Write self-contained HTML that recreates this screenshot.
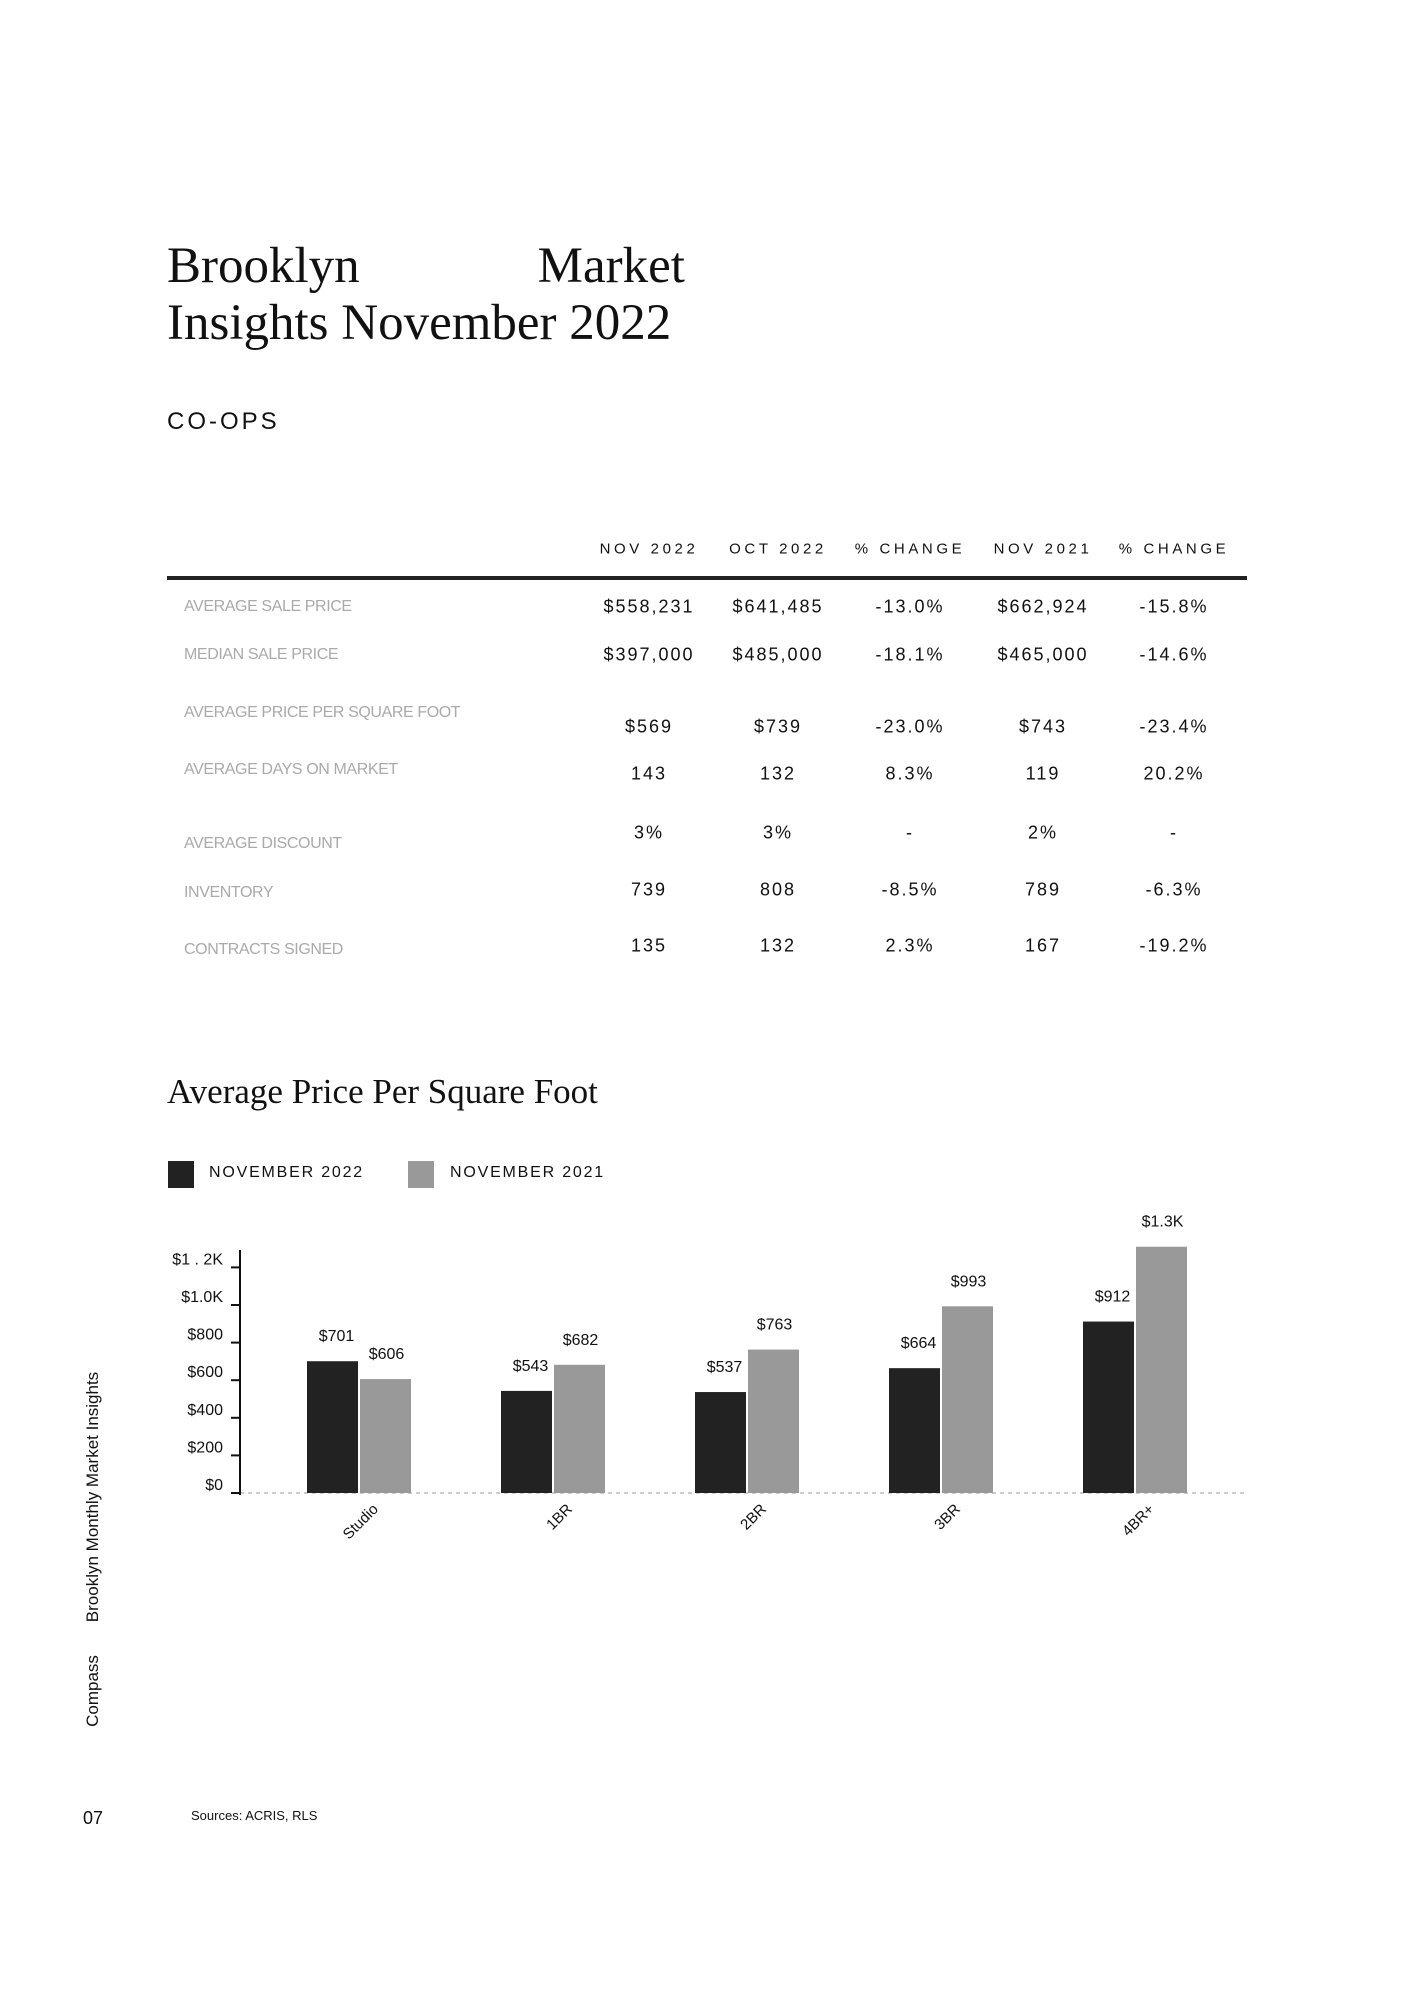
<!DOCTYPE html>
<html><head><meta charset="utf-8"><style>
body{margin:0;width:1414px;height:2000px;background:#fff;position:relative;overflow:hidden;font-family:"Liberation Sans",sans-serif;color:#111}
.a{position:absolute;white-space:nowrap}
.serif{font-family:"Liberation Serif",serif}
.hd{font-size:15px;letter-spacing:3.6px;transform:translate(-50%,-50%)}
.lb{font-size:16px;letter-spacing:-0.4px;color:#aaa;left:184px;transform:translateY(-50%)}
.v{font-size:18px;letter-spacing:2px;transform:translate(-50%,-50%)}
</style></head><body>
<div class="a serif" style="left:167px;top:238px;font-size:51px;line-height:57px">Brooklyn<span style="display:inline-block;width:178px"></span>Market<br>Insights November 2022</div>
<div class="a" style="left:167px;top:408px;font-size:24px;letter-spacing:3px">CO-OPS</div>
<div id="tbl"></div>
<div class="a" style="left:167px;top:576px;width:1080px;height:4px;background:#222"></div>
<div class="a serif" style="left:167px;top:1072px;font-size:35px">Average Price Per Square Foot</div>
<div class="a" style="left:168px;top:1161px;width:26px;height:27px;background:#222"></div>
<div class="a" style="left:209px;top:1164px;font-size:16px;letter-spacing:1.8px">NOVEMBER 2022</div>
<div class="a" style="left:408px;top:1161px;width:26px;height:27px;background:#999"></div>
<div class="a" style="left:450px;top:1164px;font-size:16px;letter-spacing:1.8px">NOVEMBER 2021</div>
<svg id="chart" class="a" style="left:0;top:0" width="1414" height="2000"></svg>
<div class="a" style="left:93px;top:1497px;font-size:17px;transform:translate(-50%,-50%) rotate(-90deg)">Brooklyn Monthly Market Insights</div>
<div class="a" style="left:93px;top:1691px;font-size:17px;transform:translate(-50%,-50%) rotate(-90deg)">Compass</div>
<div class="a" style="left:83px;top:1808px;font-size:18px">07</div>
<div class="a" style="left:191px;top:1808px;font-size:13px">Sources: ACRIS, RLS</div>
<script>
const headers=["NOV 2022","OCT 2022","% CHANGE","NOV 2021","% CHANGE"];
const rowLabels=["AVERAGE SALE PRICE","MEDIAN SALE PRICE","AVERAGE PRICE PER SQUARE FOOT","AVERAGE DAYS ON MARKET","AVERAGE DISCOUNT","INVENTORY","CONTRACTS SIGNED"];
const rowValues=[["$558,231","$641,485","-13.0%","$662,924","-15.8%"],["$397,000","$485,000","-18.1%","$465,000","-14.6%"],["$569","$739","-23.0%","$743","-23.4%"],["143","132","8.3%","119","20.2%"],["3%","3%","-","2%","-"],["739","808","-8.5%","789","-6.3%"],["135","132","2.3%","167","-19.2%"]];
const colX=[649,778,910,1043,1174];
const valY=[607,655,727,774,833,890,946];
const labY=[607,655,713,770,844,893,950];
const tbl=document.getElementById('tbl');
headers.forEach((h,i)=>{const d=document.createElement('div');d.className='a hd';d.style.left=colX[i]+'px';d.style.top='549px';d.textContent=h;


tbl.appendChild(d);});
rowLabels.forEach((l,r)=>{const d=document.createElement('div');d.className='a lb';d.style.top=labY[r]+'px';d.textContent=l;


tbl.appendChild(d);
rowValues[r].forEach((v,c)=>{const e=document.createElement('div');e.className='a v';e.style.left=colX[c]+'px';e.style.top=valY[r]+'px';e.textContent=v;


tbl.appendChild(e);});});

const categories=["Studio","1BR","2BR","3BR","4BR+"];
const nov2022=[701,543,537,664,912];
const nov2021=[606,682,763,993,1310];
const ticks=[0,200,400,600,800,1000,1200];
const tickLabels=["$0","$200","$400","$600","$800","$1.0K","$1 . 2K"];
const NS="http://www.w3.org/2000/svg";
const svg=document.getElementById('chart');
const y0=1493,k=0.188,x0=359,step=194,bw=51;
const yS=v=>y0-v*k, xS=i=>x0+i*step;
const fmt=v=>v>=1000?'$'+(v/1000).toFixed(1)+'K':'$'+v;
function el(t,a){const e=document.createElementNS(NS,t);for(const n in a)e.setAttribute(n,a[n]);svg.appendChild(e);return e;}
let b=el('line',{x1:240,x2:1247,y1:y0,y2:y0,stroke:'#ccc','stroke-width':2,'stroke-dasharray':'4 4'});


let ax=el('line',{x1:240,x2:240,y1:1250,y2:y0+2,stroke:'#111','stroke-width':2});


ticks.forEach((t,i)=>{const tm=el('line',{x1:231,x2:240,y1:yS(t),y2:yS(t),stroke:'#111','stroke-width':2});


const tl=el('text',{x:223,y:yS(t)-3,'text-anchor':'end','font-size':16,fill:'#111'});tl.textContent=tickLabels[i];

});
categories.forEach((c,i)=>{const cx=xS(i);
const r1=el('rect',{x:cx-bw-1,y:yS(nov2022[i]),width:bw,height:nov2022[i]*k,fill:'#222'});


const r2=el('rect',{x:cx+1,y:yS(nov2021[i]),width:bw,height:nov2021[i]*k,fill:'#999'});


const t1=el('text',{x:cx-bw/2+3,y:yS(nov2022[i])-20,'text-anchor':'middle','font-size':16,fill:'#111'});t1.textContent=fmt(nov2022[i]);


const t2=el('text',{x:cx+bw/2+2,y:yS(nov2021[i])-20,'text-anchor':'middle','font-size':16,fill:'#111'});t2.textContent=fmt(nov2021[i]);


const cl=el('text',{x:cx+20,y:y0+17,'text-anchor':'end','font-size':15,fill:'#111',transform:`rotate(-45 ${cx+20} ${y0+17})`});cl.textContent=c;

});
</script>
</body></html>
